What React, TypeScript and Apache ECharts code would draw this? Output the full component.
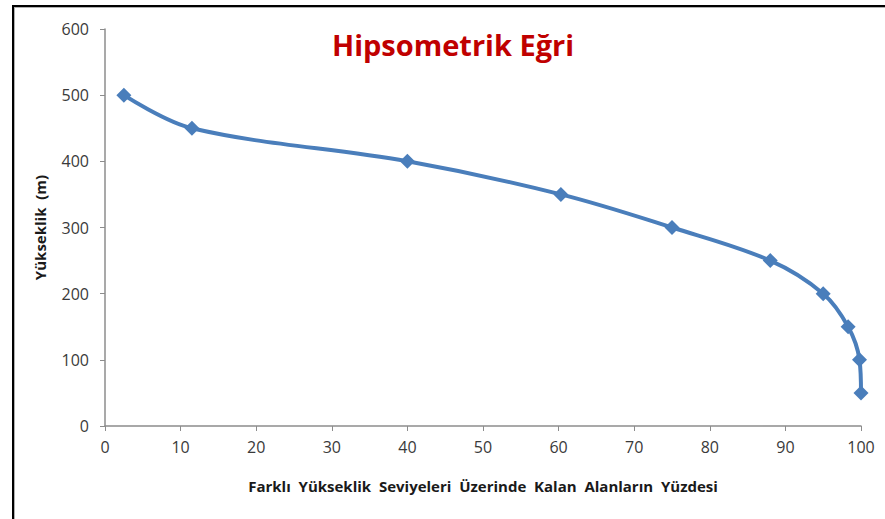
import React, { useEffect, useRef } from "react";
import * as echarts from "echarts";

const areaPercent = [2.5, 11.5, 40, 60.3, 75, 88, 95, 98.3, 99.8, 100];
const elevation = [500, 450, 400, 350, 300, 250, 200, 150, 100, 50];
const titleText = "Hipsometrik Eğri";
const xName = "Farklı  Yükseklik  Seviyeleri  Üzerinde  Kalan  Alanların  Yüzdesi";
const yName = "Yükseklik  (m)";

export default function App() {
  const ref = useRef<HTMLDivElement>(null);
  useEffect(() => {
    if (!ref.current) return;
    const chart = echarts.init(ref.current, null, { renderer: "svg" });
    const font = "'Open Sans', 'Noto Sans', sans-serif";
    chart.setOption({
      animation: false,
      backgroundColor: "#ffffff",
      textStyle: { fontFamily: font },
      title: {
        text: titleText,
        left: 448,
        top: 25,
        textAlign: "center",
        textStyle: { color: "#C00000", fontSize: 29, fontWeight: "bold", fontFamily: font },
      },
      graphic: [
        {
          type: "rect",
          shape: { x: 14, y: 7, width: 900, height: 600 },
          style: { fill: "none", stroke: "#b0b0b0", lineWidth: 2 },
          z: 0,
        },
        {
          type: "rect",
          shape: { x: 13, y: 6, width: 900, height: 600 },
          style: { fill: "none", stroke: "#000000", lineWidth: 2 },
          z: 1,
        },
      ],
      grid: { left: 105, right: 24, top: 29, bottom: 93, containLabel: false },
      xAxis: {
        type: "value",
        min: 0,
        max: 100,
        interval: 10,
        name: xName,
        nameLocation: "middle",
        nameGap: 52,
        nameTextStyle: { color: "#1a1a1a", fontWeight: "bold", fontSize: 15, fontFamily: font },
        axisLine: { show: true, lineStyle: { color: "#8c8c8c", width: 1.5 } },
        axisTick: { show: true, length: 5, lineStyle: { color: "#8c8c8c" } },
        axisLabel: { color: "#3a3a3a", fontSize: 16, margin: 13 },
        splitLine: { show: false },
      },
      yAxis: {
        type: "value",
        min: 0,
        max: 600,
        interval: 100,
        name: yName,
        nameLocation: "middle",
        nameGap: 58,
        nameTextStyle: { color: "#1a1a1a", fontWeight: "bold", fontSize: 15, fontFamily: font },
        axisLine: { show: true, lineStyle: { color: "#8c8c8c", width: 1.5 } },
        axisTick: { show: true, length: 5, lineStyle: { color: "#8c8c8c" } },
        axisLabel: { color: "#3a3a3a", fontSize: 16, margin: 16 },
        splitLine: { show: false },
      },
      series: [
        {
          type: "line",
          data: areaPercent.map((x, i) => [x, elevation[i]]),
          smooth: 0.35,
          symbol: "diamond",
          symbolSize: 15,
          lineStyle: { color: "#4A7EBB", width: 4 },
          itemStyle: { color: "#4A7EBB" },
        },
      ],
    });
    return () => chart.dispose();
  }, []);
  return (
    <div
      ref={ref}
      style={{ position: "fixed", left: 0, top: 0, width: 885, height: 519 }}
    />
  );
}
